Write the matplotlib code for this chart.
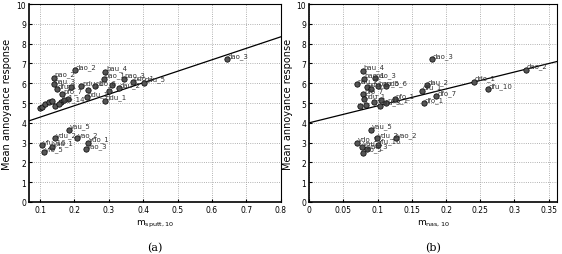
import matplotlib.pyplot as plt
import numpy as np

# panel (a): m_sputt,10
names_a = ['dao_3', 'dao_2', 'bau_4', 'bao_1', 'pao_3', 'pdo_1', 'dau_5', 'pao_2',
           'bau_3', 'dfu_1', 'pfo_7', 'bdu_1', 'ddu_1', 'pfo_14', 'dau_2', 'pdu_1',
           'pdo_6', '', '', '', '', '', '', '', '', '', '', '', '', '_1',
           'vau_5', 'vdu_2', 'vao_2', 'vfu_16', 'vau_1', 'vfo_5', 'vdo_1', 'vao_3']
x_a = [0.643, 0.202, 0.29, 0.286, 0.344, 0.37, 0.403, 0.14,
       0.14, 0.15, 0.165, 0.237, 0.289, 0.16, 0.33, 0.22,
       0.26, 0.24, 0.30, 0.31, 0.19, 0.10, 0.105, 0.115, 0.125, 0.135, 0.145, 0.155, 0.18, 0.17,
       0.184, 0.144, 0.207, 0.107, 0.136, 0.112, 0.24, 0.234]
y_a = [7.22, 6.65, 6.58, 6.22, 6.22, 6.08, 6.02, 6.28,
       5.95, 5.7, 5.45, 5.3, 5.12, 5.05, 5.75, 5.85,
       5.85, 5.65, 5.6, 5.9, 5.8, 4.75, 4.82, 4.95, 5.05, 5.1, 4.85, 4.95, 5.2, 5.15,
       3.65, 3.22, 3.22, 2.88, 2.8, 2.52, 3.0, 2.68]
fit_a = [5.8, 3.706]  # slope, intercept

# panel (b): m_nas,10
names_b = ['dao_3', 'dao_2', 'ddo_1', 'dfu_10', 'dau_2', 'dfu_1', 'dfo_7', 'dfo_1',
           'pfo_1', 'bau_4', 'bao_1', 'pao_3', 'pau_2', 'pdu_1', 'bau_5', 'pdo_6',
           'pfo_7', 'pdu_1', '', 'pfu_3', 'pdo_1', '', '', '', '',
           'vau_5', 'vdu_2', 'vao_2', 'vdo_1', 'vau_1', 'vfo_5', 'vao_3', 'vfu_16']
x_b = [0.179, 0.317, 0.241, 0.261, 0.172, 0.165, 0.186, 0.168,
       0.125, 0.078, 0.08, 0.096, 0.07, 0.084, 0.1, 0.112,
       0.079, 0.08, 0.074, 0.104, 0.113, 0.09, 0.083, 0.095, 0.105,
       0.091, 0.099, 0.127, 0.07, 0.077, 0.079, 0.085, 0.1]
y_b = [7.22, 6.68, 6.08, 5.7, 5.9, 5.62, 5.34, 5.0,
       5.2, 6.63, 6.22, 6.26, 5.95, 5.8, 5.85, 5.85,
       5.45, 5.2, 4.83, 4.87, 5.0, 5.7, 4.9, 5.05, 5.15,
       3.65, 3.23, 3.23, 3.0, 2.8, 2.5, 2.68, 2.9]
fit_b = [8.56, 4.0]

xt_a = [0.1, 0.2, 0.3, 0.4, 0.5, 0.6, 0.7, 0.8]
xtl_a = ['0.1', '0.2', '0.3', '0.4', '0.5', '0.6', '0.7', '0.8']
xt_b = [0, 0.05, 0.1, 0.15, 0.2, 0.25, 0.3, 0.35]
xtl_b = ['0', '0.05', '0.1', '0.15', '0.2', '0.25', '0.3', '0.35']

fig = plt.figure(figsize=(5.62, 2.55), dpi=100)
ax1 = fig.add_axes([0.0516, 0.204, 0.448, 0.776])
ax2 = fig.add_axes([0.55, 0.204, 0.441, 0.776])

panels = [
    (ax1, names_a, x_a, y_a, fit_a, (0.068, 0.8), xt_a, xtl_a,
     r'm$_{\mathregular{sputt,10}}$', '(a)'),
    (ax2, names_b, x_b, y_b, fit_b, (0, 0.362), xt_b, xtl_b,
     r'm$_{\mathregular{nas,10}}$', '(b)'),
]

for ax, names, xs, ys, fit, xl, xt, xtl, xlab, tag in panels:
    xx = np.array(xl)
    ax.plot(xx, fit[0] * xx + fit[1], color='black', lw=0.9, zorder=2)
    ax.scatter(xs, ys, s=15, color='#555555', edgecolors='black', linewidths=0.5, zorder=3)
    for n, x, y in zip(names, xs, ys):
        if n:
            ax.annotate(n, (x, y), xytext=(0.5, 0.3), textcoords='offset points',
                        fontsize=5, ha='left', va='bottom', color='#333333', zorder=4)
    ax.set_xlim(xl)
    ax.set_ylim(0, 10)
    ax.set_xticks(xt)
    ax.set_xticklabels(xtl)
    ax.set_yticks(range(0, 11))
    ax.tick_params(labelsize=5.5, direction='in', length=2, pad=2)
    ax.grid(True, linestyle=':', color='#999999', lw=0.6)
    ax.set_axisbelow(True)
    for s in ax.spines.values():
        s.set_linewidth(0.8)
    ax.spines['left'].set_linewidth(1.2)
    ax.spines['bottom'].set_linewidth(1.2)
    ax.set_ylabel('Mean annoyance response', fontsize=7, labelpad=3)
    ax.set_xlabel(xlab, fontsize=6.5, labelpad=3)
    ax.text(0.5, -0.2, tag, transform=ax.transAxes, ha='center', va='top',
            fontsize=8, family='DejaVu Serif')

fig.savefig('out.png', dpi=100)
